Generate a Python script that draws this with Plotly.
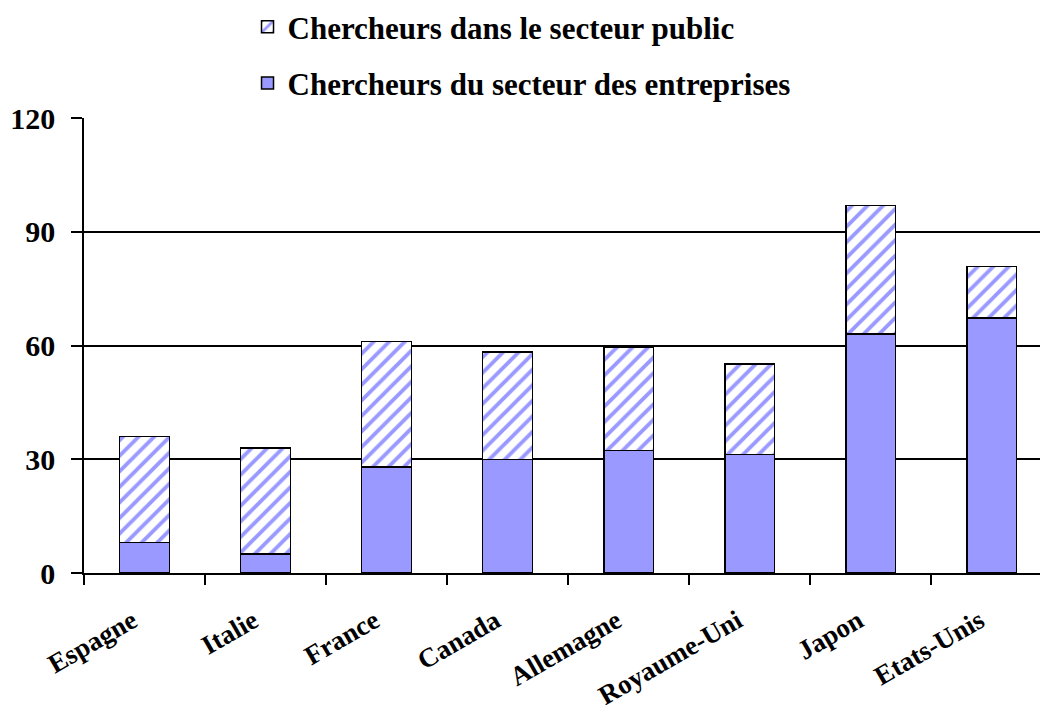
import plotly.graph_objects as go

pays = ["Espagne", "Italie", "France", "Canada", "Allemagne", "Royaume-Uni", "Japon", "Etats-Unis"]
entreprises = [8, 5, 28, 30, 32.3, 31.3, 63, 67.2]
public = [28, 28, 33, 28.3, 27.2, 23.8, 33.9, 13.7]
yticks = [0, 30, 60, 90, 120]

FONT = "Liberation Serif"
PURPLE = "#9999ff"

fig = go.Figure()
fig.add_trace(go.Bar(
    x=pays, y=entreprises, name="Chercheurs du secteur des entreprises",
    marker=dict(color=PURPLE, line=dict(color="black", width=1.5)),
    width=0.41, legendgroup="a", legendrank=2,
))
fig.add_trace(go.Bar(
    x=pays, y=public, name="Chercheurs dans le secteur public",
    marker=dict(color="white", line=dict(color="black", width=1.5),
                pattern=dict(shape="/", fgcolor=PURPLE, bgcolor="white", size=11, solidity=0.35, fillmode="replace")),
    width=0.41, legendgroup="b", legendrank=1,
))

fig.update_layout(
    barmode="stack",
    width=1040, height=718,
    margin=dict(l=84, r=0, t=118, b=145, autoexpand=False),
    paper_bgcolor="white", plot_bgcolor="white",
    font=dict(family=FONT, size=24, color="black"),
    showlegend=True,
    legend=dict(
        xref="container", yref="container",
        x=0.238, xanchor="left", y=1.0, yanchor="top",
        traceorder="grouped", tracegroupgap=13,
        font=dict(family=FONT, size=31, color="black", weight="bold"),
        itemwidth=30, bgcolor="rgba(0,0,0,0)",
    ),
)
fig.update_xaxes(
    range=[-0.5, 7.4], tickson="boundaries", ticks="outside", ticklen=10, tickwidth=1.5, tickcolor="black",
    showline=True, linecolor="black", linewidth=1.5, showgrid=False, automargin=False,
    tickangle=-30, tickfont=dict(family=FONT, size=27, weight="bold"),
    ticklabelstandoff=20, ticklabelshift=-12,
)
fig.update_yaxes(
    range=[0, 120], tickvals=yticks, ticks="outside", ticklen=11, tickwidth=1.5, tickcolor="black",
    showline=True, linecolor="black", linewidth=1.5, showgrid=True, gridcolor="black", gridwidth=1.5,
    tickfont=dict(family=FONT, size=30, weight="bold"), zeroline=False, automargin=False,
    ticklabelstandoff=10,
)
fig.write_html("out.html", config={"displayModeBar": False},
               post_script="document.body.style.margin='0';")
